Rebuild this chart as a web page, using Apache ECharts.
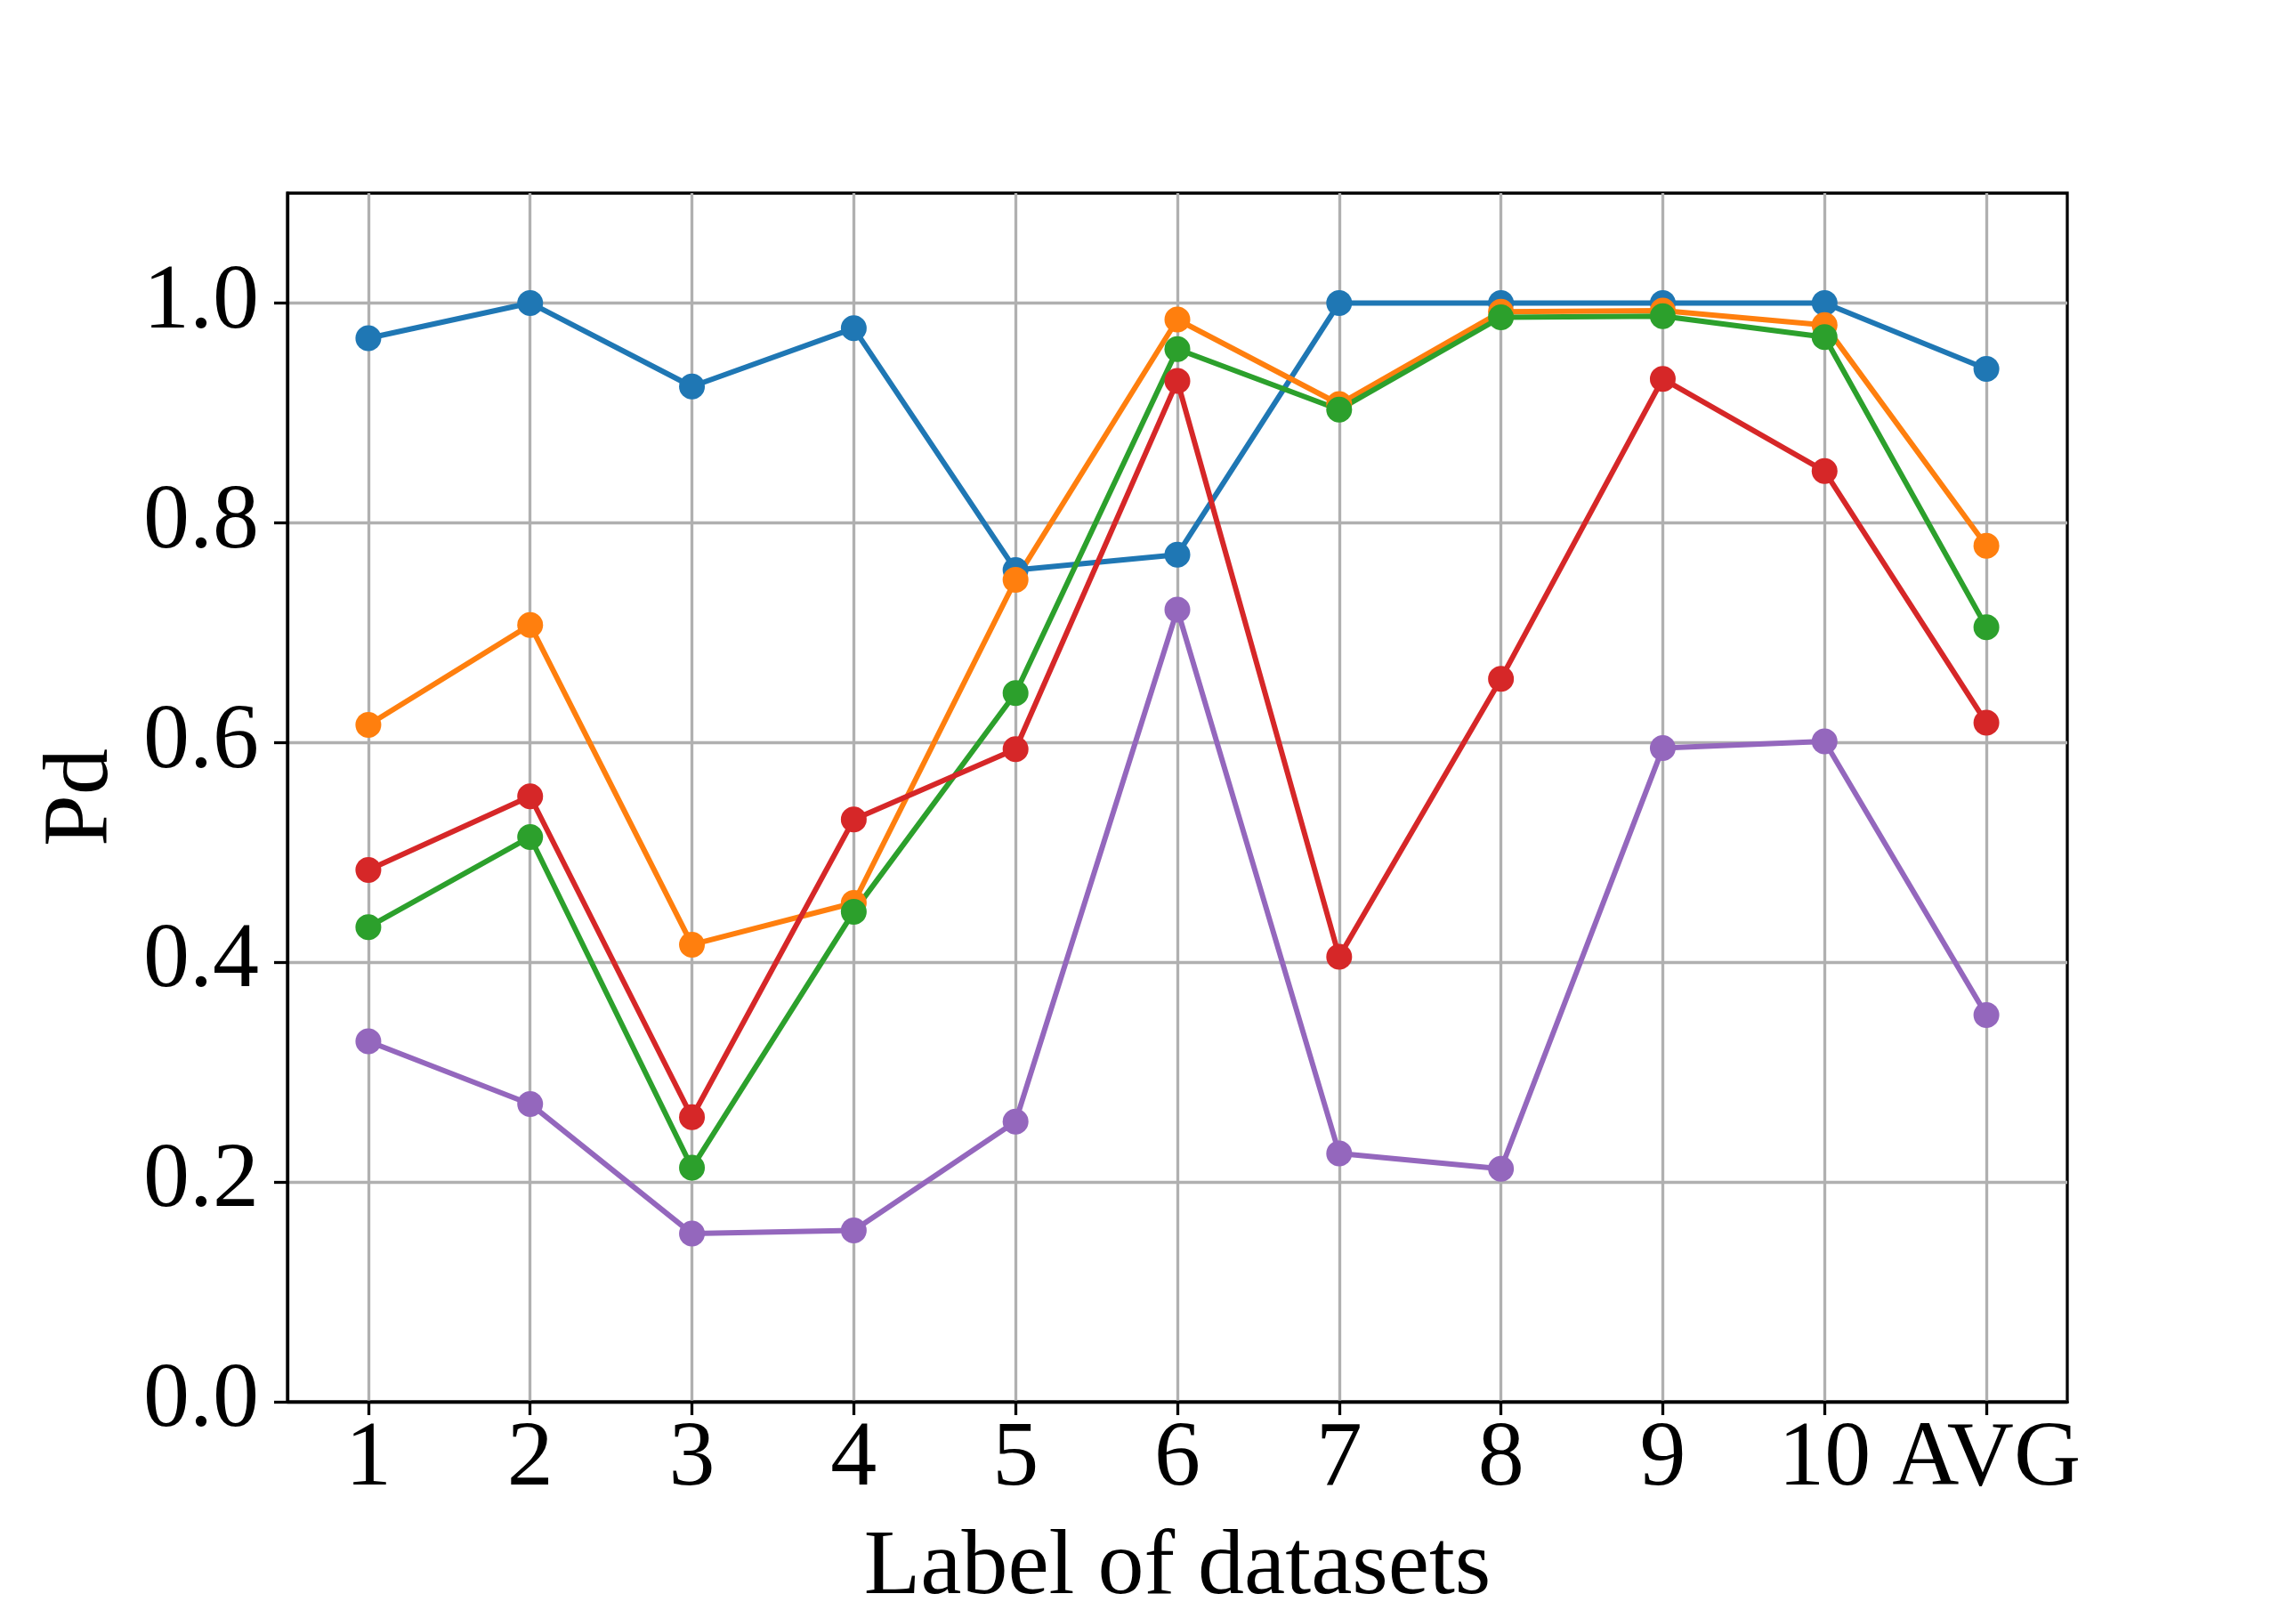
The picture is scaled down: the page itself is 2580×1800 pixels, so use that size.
<!DOCTYPE html>
<html>
<head>
<meta charset="utf-8">
<script src="https://cdn.jsdelivr.net/npm/echarts@6/dist/echarts.min.js"></script>
<style>
  html, body { margin: 0; padding: 0; background: #fff; }
  #chart { width: 2580px; height: 1800px; }
</style>
</head>
<body>
<div id="chart"></div>
<script>
// dataset labels on the x axis
var categories = ['1', '2', '3', '4', '5', '6', '7', '8', '9', '10', 'AVG']
var yTicks = [0, 0.2, 0.4, 0.6, 0.8, 1.0]

// Pd of each method
var blueVals   = [0.968, 1.000, 0.924, 0.977, 0.757, 0.771, 1.000, 1.000, 1.000, 1.000, 0.940]
var orangeVals = [0.616, 0.707, 0.416, 0.454, 0.748, 0.985, 0.908, 0.992, 0.993, 0.980, 0.779]
var greenVals  = [0.432, 0.514, 0.213, 0.446, 0.645, 0.958, 0.903, 0.987, 0.988, 0.969, 0.705]
var redVals    = [0.484, 0.551, 0.259, 0.530, 0.594, 0.929, 0.405, 0.658, 0.931, 0.847, 0.618]
var purpleVals = [0.328, 0.271, 0.153, 0.156, 0.255, 0.721, 0.226, 0.212, 0.595, 0.601, 0.352]

var colors = ['#1f77b4', '#ff7f0e', '#2ca02c', '#d62728', '#9467bd']
var font = 'Liberation Serif'

function lineSeries(vals, color) {
  return {
    type: 'line',
    data: vals,
    symbol: 'circle',
    symbolSize: 29,
    showSymbol: true,
    lineStyle: { color: color, width: 6 },
    itemStyle: { color: color },
    animation: false
  }
}

var myChart = echarts.init(document.getElementById('chart'), null, { renderer: 'canvas' })

myChart.setOption({
  backgroundColor: '#fff',
  grid: {
    left: 323, right: 257, top: 217, bottom: 225,
    outerBoundsMode: 'none',
    containLabel: false,
    show: true, borderColor: '#000', borderWidth: 3.3, backgroundColor: 'transparent'
  },
  xAxis: {
    type: 'category',
    data: categories,
    boundaryGap: true,
    name: 'Label of datasets',
    nameLocation: 'middle',
    nameGap: 136,
    nameTextStyle: { fontFamily: font, fontSize: 104, color: '#000' },
    axisLine: { show: true, lineStyle: { color: '#000', width: 3.3 } },
    axisTick: { show: true, alignWithLabel: true, length: 15, lineStyle: { color: '#000', width: 3.3 } },
    axisLabel: { fontFamily: font, fontSize: 104, color: '#000', margin: 14, interval: 0 },
    splitLine: { show: true, alignWithLabel: true, lineStyle: { color: '#b0b0b0', width: 3.3 } }
  },
  yAxis: {
    type: 'value',
    min: 0,
    max: 1.1,
    interval: 0.2,
    name: 'Pd',
    nameLocation: 'middle',
    nameGap: 178,
    nameTextStyle: { fontFamily: font, fontSize: 104, color: '#000' },
    axisLine: { show: true, lineStyle: { color: '#000', width: 3.3 } },
    axisTick: { show: true, length: 15, customValues: yTicks, lineStyle: { color: '#000', width: 3.3 } },
    axisLabel: {
      fontFamily: font, fontSize: 104, color: '#000', margin: 32,
      customValues: yTicks,
      formatter: function (v) { return v.toFixed(1) }
    },
    splitLine: { show: true, lineStyle: { color: '#b0b0b0', width: 3.3 } }
  },
  series: [
    lineSeries(blueVals, colors[0]),
    lineSeries(orangeVals, colors[1]),
    lineSeries(greenVals, colors[2]),
    lineSeries(redVals, colors[3]),
    lineSeries(purpleVals, colors[4])
  ]
})
</script>
</body>
</html>
